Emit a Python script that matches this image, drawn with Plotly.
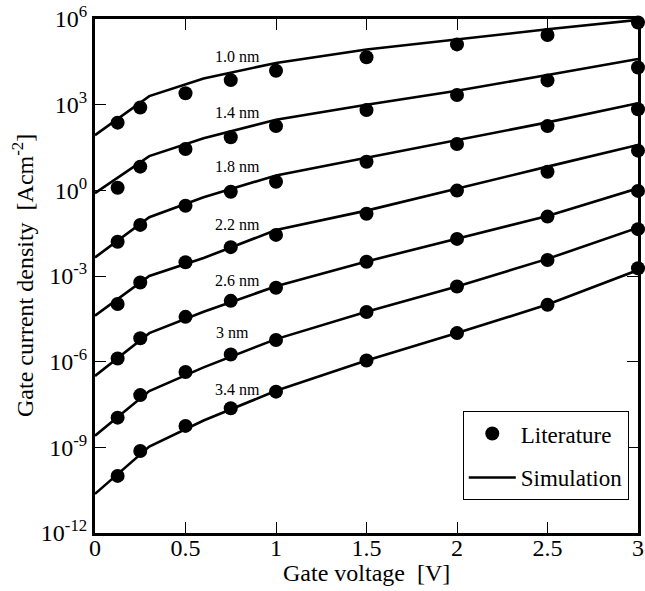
import plotly.graph_objects as go

# ---- data (log10 of gate current density, A/cm^2) ----
thickness_labels = ["1.0 nm", "1.4 nm", "1.8 nm", "2.2 nm", "2.6 nm", "3 nm", "3.4 nm"]

lit_v = [0.125, 0.25, 0.5, 0.75, 1.0, 1.5, 2.0, 2.5, 3.0]
lit_10 = [2.37, 2.90, 3.40, 3.86, 4.19, 4.66, 5.11, 5.44, 5.88]
lit_14 = [0.09, 0.83, 1.45, 1.86, 2.25, 2.81, 3.34, 3.85, 4.30]
lit_18 = [-1.80, -1.21, -0.54, -0.05, 0.30, 1.00, 1.62, 2.25, 2.84]
lit_22 = [-3.98, -3.23, -2.52, -1.99, -1.56, -0.82, -0.01, 0.65, 1.39]
lit_26 = [-5.89, -5.18, -4.43, -3.87, -3.41, -2.50, -1.70, -0.92, -0.02]
lit_30 = [-7.96, -7.17, -6.36, -5.75, -5.24, -4.26, -3.37, -2.44, -1.36]
lit_34 = [-10.0, -9.13, -8.25, -7.63, -7.05, -5.96, -5.00, -4.01, -2.73]

sim_v = [0.0, 0.3, 0.6, 1.0, 1.5, 2.0, 2.5, 3.0]
sim_10 = [1.93, 3.30, 3.92, 4.46, 4.93, 5.29, 5.64, 5.97]
sim_14 = [-0.10, 1.20, 1.82, 2.47, 3.00, 3.49, 4.04, 4.60]
sim_18 = [-2.35, -0.94, -0.24, 0.52, 1.14, 1.76, 2.38, 3.05]
sim_22 = [-4.39, -3.00, -2.37, -1.39, -0.71, 0.07, 0.83, 1.59]
sim_26 = [-6.50, -5.00, -4.25, -3.36, -2.49, -1.70, -0.90, 0.07]
sim_30 = [-8.59, -7.03, -6.20, -5.21, -4.25, -3.37, -2.40, -1.31]
sim_34 = [-10.63, -8.97, -8.06, -7.02, -5.96, -5.00, -4.00, -2.79]

label_v = [0.79, 0.79, 0.79, 0.79, 0.79, 0.76, 0.79]
label_log = [4.67, 2.74, 0.82, -1.21, -3.17, -4.99, -6.96]

y_tick_exp = [-12, -9, -6, -3, 0, 3, 6]
x_tick_vals = [0, 0.5, 1, 1.5, 2, 2.5, 3]
x_tick_text = ["0", "0.5", "1", "1.5", "2", "2.5", "3"]

x_title = "Gate voltage\u00a0\u00a0[V]"
y_title = "Gate current density\u00a0\u00a0[Acm<sup>-2</sup>]"

lit_sets = [lit_10, lit_14, lit_18, lit_22, lit_26, lit_30, lit_34]
sim_sets = [sim_10, sim_14, sim_18, sim_22, sim_26, sim_30, sim_34]

FONT = "Liberation Serif"

fig = go.Figure()

for i, s in enumerate(sim_sets):
    fig.add_trace(go.Scatter(
        x=sim_v, y=[10 ** v for v in s], mode="lines",
        line=dict(color="black", width=2.6),
        name="Simulation", legendgroup="sim", legendrank=2,
        showlegend=(i == 0), hoverinfo="skip"))

for i, s in enumerate(lit_sets):
    fig.add_trace(go.Scatter(
        x=lit_v, y=[10 ** v for v in s], mode="markers",
        marker=dict(color="black", size=14),
        name="Literature", legendgroup="lit", legendrank=1,
        showlegend=(i == 0), cliponaxis=False))

for txt, lx, ly in zip(thickness_labels, label_v, label_log):
    fig.add_annotation(x=lx, y=ly, xref="x", yref="y", text=txt,
                       showarrow=False, font=dict(family=FONT, size=16, color="black"))

# axis titles
fig.add_annotation(x=0.5, y=-40 / 514, xref="paper", yref="paper", text=x_title,
                   showarrow=False, xanchor="center", yanchor="middle",
                   font=dict(family=FONT, size=24, color="black"))
fig.add_annotation(x=-72 / 543, y=0.5, xref="paper", yref="paper", text=y_title,
                   showarrow=False, xanchor="center", yanchor="middle", textangle=-90,
                   font=dict(family=FONT, size=24, color="black"))

fig.update_layout(
    width=645, height=591,
    margin=dict(l=95, r=7, t=19, b=58, autoexpand=False),
    paper_bgcolor="white", plot_bgcolor="white",
    font=dict(family=FONT, color="black"),
    legend=dict(x=0.983, xanchor="right", y=0.064, yanchor="bottom",
                bgcolor="white", bordercolor="black", borderwidth=1,
                font=dict(family=FONT, size=23), itemwidth=47,
                tracegroupgap=11),
)

fig.update_xaxes(
    range=[0, 3], tickvals=x_tick_vals, ticktext=x_tick_text,
    ticks="inside", ticklen=11, tickwidth=1, tickcolor="black",
    showline=True, linewidth=3, linecolor="black", mirror="ticks",
    showgrid=False, zeroline=False, automargin=False,
    ticklabeloverflow="allow", ticklabelstandoff=-9,
    tickfont=dict(family=FONT, size=24, color="black"),
)

fig.update_yaxes(
    type="log", range=[-12, 6],
    tickvals=[10 ** e for e in y_tick_exp],
    ticktext=["10<sup>%d</sup>" % e for e in y_tick_exp],
    ticks="inside", ticklen=11, tickwidth=1, tickcolor="black",
    showline=True, linewidth=3, linecolor="black", mirror="ticks",
    showgrid=False, zeroline=False, automargin=False,
    ticklabeloverflow="allow",
    tickfont=dict(family=FONT, size=24, color="black"),
)

# remove the page's default 8px body margin so the figure fills the window exactly
fig.write_html("out.html", config={"displayModeBar": False},
               post_script="document.body.style.margin='0';document.body.style.overflow='hidden';")
